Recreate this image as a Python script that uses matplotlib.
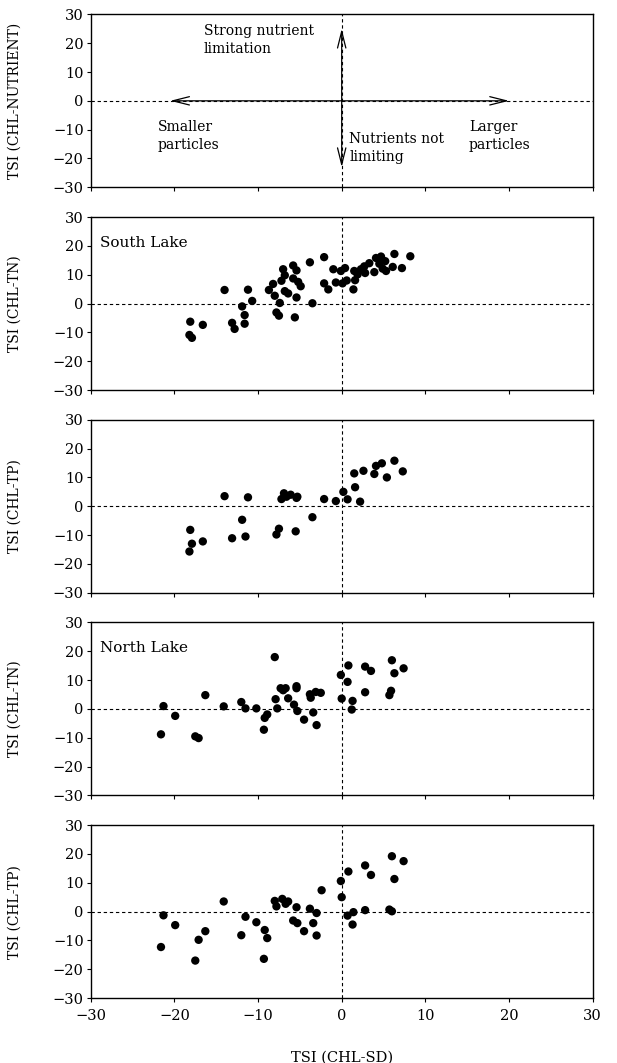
import numpy as np
import matplotlib
matplotlib.use("Agg")
import matplotlib.pyplot as plt

plt.rcParams["font.family"] = ["DejaVu Serif"]
plt.rcParams["font.size"] = 10

# ── data ────────────────────────────────────────────────────────────────────
south_tn_x = [-18.1, -18.2, -17.9, -16.6, -14.0, -13.1, -12.8, -11.9, -11.6, -11.6,
              -11.2, -10.7, -8.7, -8.2, -8.0, -7.8, -7.5, -7.4, -7.2, -7.0,
              -6.8, -6.8, -6.4, -5.8, -5.4, -5.8, -5.6, -5.4, -5.2, -4.9,
              -3.8, -3.5, -2.1, -2.1, -1.6, -1.0, -0.7, -0.1, 0.1, 0.4,
              0.6, 1.4, 1.5, 1.6, 1.9, 2.3, 2.8, 2.7, 3.3, 3.9,
              4.1, 4.7, 4.5, 5.2, 5.3, 4.9, 6.3, 6.1, 7.2, 8.2]
south_tn_y = [-6.3, -10.9, -11.9, -7.4, 4.7, -6.7, -8.8, -1.0, -4.0, -7.0,
              4.8, 0.9, 4.7, 6.8, 2.7, -3.1, -4.2, 0.2, 7.9, 11.9,
              9.8, 4.3, 3.5, 13.2, 11.5, 8.7, -4.8, 2.1, 7.5, 6.0,
              14.3, 0.1, 16.1, 7.0, 4.9, 11.9, 7.3, 11.3, 7.0, 12.3,
              8.0, 4.9, 11.3, 8.1, 10.1, 11.9, 10.6, 12.9, 14.0, 10.9,
              15.8, 16.3, 13.8, 14.7, 11.3, 12.1, 17.2, 12.7, 12.3, 16.4]

south_tp_x = [-18.2, -18.1, -17.9, -16.6, -14.0, -13.1, -11.9, -11.5, -11.2, -7.8,
              -7.5, -7.2, -6.9, -6.6, -6.1, -5.4, -5.3, -5.5, -3.5, -2.1,
              -0.7, 0.2, 0.7, 1.5, 1.6, 2.2, 2.6, 3.9, 4.1, 4.8,
              5.4, 6.3, 7.3]
south_tp_y = [-15.7, -8.2, -13.0, -12.2, 3.5, -11.1, -4.7, -10.5, 3.1, -9.8,
              -7.8, 2.5, 4.5, 3.3, 4.0, 2.9, 3.3, -8.7, -3.8, 2.5,
              1.8, 5.0, 2.4, 11.4, 6.6, 1.6, 12.3, 11.2, 14.0, 14.9,
              10.0, 15.8, 12.1]

north_tn_x = [-21.6, -21.3, -19.9, -17.5, -17.1, -16.3, -14.1, -12.0, -11.5, -10.2,
              -9.3, -9.2, -8.9, -8.0, -7.9, -7.7, -7.3, -7.0, -6.7, -6.4,
              -5.7, -5.4, -5.4, -5.3, -4.5, -3.8, -3.7, -3.4, -3.1, -3.0,
              -2.5, -0.1, 0.0, 0.7, 0.8, 1.3, 1.2, 2.8, 2.8, 3.5,
              5.7, 5.9, 6.0, 6.3, 7.4]
north_tn_y = [-8.8, 1.0, -2.4, -9.5, -10.1, 4.8, 0.9, 2.4, 0.2, 0.2,
              -7.2, -3.1, -1.9, 18.0, 3.4, 0.2, 7.2, 6.5, 7.2, 3.7,
              1.5, 7.9, 7.2, -0.7, -3.7, 5.1, 3.9, -1.2, 5.9, -5.6,
              5.6, 11.8, 3.6, 9.4, 15.1, 2.8, -0.2, 5.8, 14.7, 13.2,
              4.8, 6.3, 16.9, 12.4, 14.1]

north_tp_x = [-21.6, -21.3, -19.9, -17.5, -17.1, -16.3, -14.1, -12.0, -11.5, -10.2,
              -9.3, -9.2, -8.9, -8.0, -7.8, -7.1, -6.7, -6.4, -5.8, -5.4,
              -5.3, -4.5, -3.8, -3.4, -3.0, -3.0, -2.4, -0.1, 0.0, 0.8,
              0.7, 1.3, 1.4, 2.8, 2.8, 3.5, 5.7, 6.0, 6.0, 6.3, 7.4]
north_tp_y = [-12.3, -1.3, -4.7, -17.0, -9.8, -6.8, 3.5, -8.2, -1.8, -3.7,
              -16.4, -6.4, -9.2, 3.7, 1.8, 4.4, 2.7, 3.5, -3.1, 1.5,
              -4.0, -6.8, 1.0, -4.0, -0.5, -8.3, 7.4, 10.6, 5.0, 13.9,
              -1.4, -4.5, -0.2, 16.0, 0.5, 12.7, 0.7, 0.1, 19.2, 11.3, 17.5]

y_labels = ["TSI (CHL-NUTRIENT)", "TSI (CHL-TN)", "TSI (CHL-TP)",
            "TSI (CHL-TN)", "TSI (CHL-TP)"]
lake_names = [None, "South Lake", None, "North Lake", None]
ticks = [-30, -20, -10, 0, 10, 20, 30]

panels = [(None, None), (south_tn_x, south_tn_y), (south_tp_x, south_tp_y),
          (north_tn_x, north_tn_y), (north_tp_x, north_tp_y)]

# ── layout ──────────────────────────────────────────────────────────────────
fig = plt.figure(figsize=(6.17, 10.63), dpi=100)
left, width, height = 0.147, 0.8136, 0.1627
bottoms = [0.8238, 0.6331, 0.4424, 0.2517, 0.0611]

dash = dict(color="black", linewidth=0.8, linestyle=(0, (3, 2.5)), zorder=1)

axes = []
for i, (xs, ys) in enumerate(panels):
    ax = fig.add_axes([left, bottoms[i], width, height])
    ax.set_xlim(-30, 30)
    ax.set_ylim(-30, 30)
    ax.set_xticks(ticks)
    ax.set_yticks(ticks)
    ax.tick_params(direction="out", length=3, width=0.8, labelsize=10.5, pad=2)
    ax.tick_params(axis="x", pad=5)
    for s in ax.spines.values():
        s.set_linewidth(1.0)
    if i < 4:
        ax.set_xticklabels([])
    ax.axhline(0, **dash)
    ax.axvline(0, **dash)
    if xs is not None:
        ax.scatter(xs, ys, s=36, color="black", edgecolors="none", zorder=3)
    if lake_names[i]:
        ax.text(-28.9, 21, lake_names[i], fontsize=11, va="center", ha="left")
    ax.set_ylabel(y_labels[i], fontsize=10)
    ax.yaxis.set_label_coords(-0.137, 0.5)
    axes.append(ax)

# ── top panel: interpretation arrows ────────────────────────────────────────
ax0 = axes[0]
arrow = dict(arrowstyle="->,head_length=1.2,head_width=0.3", color="black",
             lw=0.9, shrinkA=0, shrinkB=0)
for tip in [(-20.5, 0), (20, 0), (0, 25), (0, -23)]:
    ax0.annotate("", xy=tip, xytext=(0, 0), arrowprops=arrow, zorder=4)

ax0.text(-16.5, 21, "Strong nutrient\nlimitation", ha="left", va="center",
         fontsize=10, linespacing=1.35)
ax0.text(-22.0, -12.2, "Smaller\nparticles", ha="left", va="center",
         fontsize=10, linespacing=1.35)
ax0.text(0.9, -16.5, "Nutrients not\nlimiting", ha="left", va="center",
         fontsize=10, linespacing=1.35)
ax0.text(15.2, -12.2, "Larger\nparticles", ha="left", va="center",
         fontsize=10, linespacing=1.35)

axes[-1].set_xlabel("TSI (CHL-SD)", fontsize=10.5, labelpad=20)

fig.savefig("out.png", dpi=100)
